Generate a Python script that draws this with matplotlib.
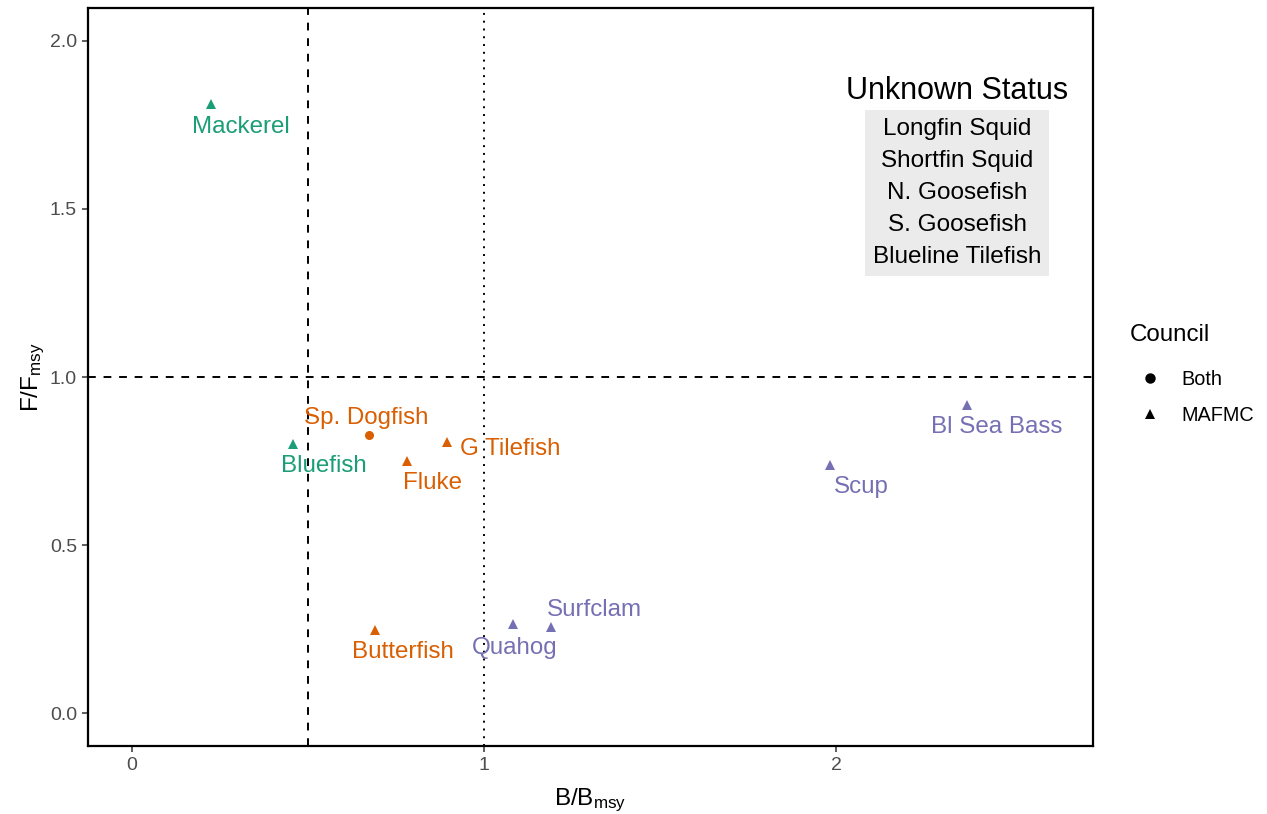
import matplotlib
matplotlib.use("Agg")
import matplotlib.pyplot as plt
from matplotlib.lines import Line2D

plt.rcParams['font.family'] = ['Liberation Sans', 'DejaVu Sans']
plt.rcParams['mathtext.fontset'] = 'custom'
plt.rcParams['mathtext.rm'] = 'Liberation Sans'
plt.rcParams['mathtext.it'] = 'Liberation Sans'

# ---- data ----
stocks = ["Mackerel", "Bluefish", "Sp. Dogfish", "Fluke", "G Tilefish",
          "Butterfish", "Quahog", "Surfclam", "Scup", "Bl Sea Bass"]
b_bmsy = [0.224, 0.457, 0.673, 0.781, 0.895, 0.690, 1.082, 1.190, 1.983, 2.372]
f_fmsy = [1.812, 0.800, 0.827, 0.750, 0.806, 0.247, 0.265, 0.256, 0.738, 0.917]
council = ["MAFMC", "MAFMC", "Both", "MAFMC", "MAFMC",
           "MAFMC", "MAFMC", "MAFMC", "MAFMC", "MAFMC"]
group = ["Pelagic", "Pelagic", "Demersal", "Demersal", "Demersal",
         "Demersal", "Benthic", "Benthic", "Benthivore", "Benthivore"]
unknown_status = ["Longfin Squid", "Shortfin Squid", "N. Goosefish",
                  "S. Goosefish", "Blueline Tilefish"]
x_ticks = [0, 1, 2]
y_ticks = [0.0, 0.5, 1.0, 1.5, 2.0]

# ---- styles ----
group_colors = {"Pelagic": "#1B9E77", "Demersal": "#D95F02",
                "Benthic": "#7570B3", "Benthivore": "#7570B3"}
council_markers = {"Both": "o", "MAFMC": "^"}
# label offsets in pixels (dx, dy) relative to point
label_offsets = [(30, -23), (31, -22), (-3, 17), (26, -22), (63, -7),
                 (28, -22), (2, -24), (44, 17), (31, -22), (30, -22)]

fig = plt.figure(figsize=(12.67, 8.14), dpi=100)
ax = fig.add_axes([88/1267, 68/814, (1093-88)/1267, (746-8)/814])

for x, y, c, g in zip(b_bmsy, f_fmsy, council, group):
    ax.plot(x, y, linestyle='none', marker=council_markers[c],
            color=group_colors[g], markersize=7.5 if c == "MAFMC" else 6.5,
            markeredgewidth=0, zorder=3)

for name, x, y, g, off in zip(stocks, b_bmsy, f_fmsy, group, label_offsets):
    ax.annotate(name, (x, y), xytext=off, textcoords='offset pixels',
                ha='center', va='center', color=group_colors[g], fontsize=17.4,
                zorder=4)

ax.axvline(0.5, color='black', linestyle=(0, (4, 4)), linewidth=1.4)
ax.axvline(1.0, color='black', linestyle=(0, (1, 3)), linewidth=1.4)
ax.axhline(1.0, color='black', linestyle=(0, (4, 4)), linewidth=1.4)

ax.set_xlim(-0.125, 2.73)
ax.set_ylim(-0.098, 2.098)
ax.set_xticks(x_ticks)
ax.set_xticklabels([str(v) for v in x_ticks])
ax.set_yticks(y_ticks)
ax.set_yticklabels([f"{v:.1f}" for v in y_ticks])
ax.tick_params(labelcolor='#4D4D4D', labelsize=14, length=4, width=1.1,
               color='#333333', pad=4)
for s in ax.spines.values():
    s.set_linewidth(1.6)
    s.set_color('black')

ax.set_xlabel(r'B/B$_{\mathregular{msy}}$', fontsize=17.5, labelpad=9)
ax.set_ylabel(r'F/F$_{\mathregular{msy}}$', fontsize=17.5, labelpad=2)

# Unknown status box
ax.text((957-88)/1005, (746-91)/738, "Unknown Status", transform=ax.transAxes,
        ha='center', va='center', fontsize=22, color='black')
ax.text((957-88)/1005, (746-193)/738, "\n".join(unknown_status),
        transform=ax.transAxes, ha='center', va='center', fontsize=17.5,
        linespacing=1.6,
        bbox=dict(facecolor='#EBEBEB', edgecolor='none', boxstyle='square,pad=0.33'))

handles = [Line2D([], [], linestyle='none', marker=council_markers[k],
                  color='black', markersize=7.5, markeredgewidth=0)
           for k in ["Both", "MAFMC"]]
leg = fig.legend(handles, ["Both", "MAFMC"], title="Council",
                 loc='upper left', bbox_to_anchor=(1122/1267, (814-316)/814),
                 frameon=False, fontsize=14.3, title_fontsize=17.4,
                 handletextpad=0.6, labelspacing=0.9, borderaxespad=0)
leg._legend_box.align = "left"
leg._legend_box.sep = 17

fig.savefig("out.png", dpi=100)
